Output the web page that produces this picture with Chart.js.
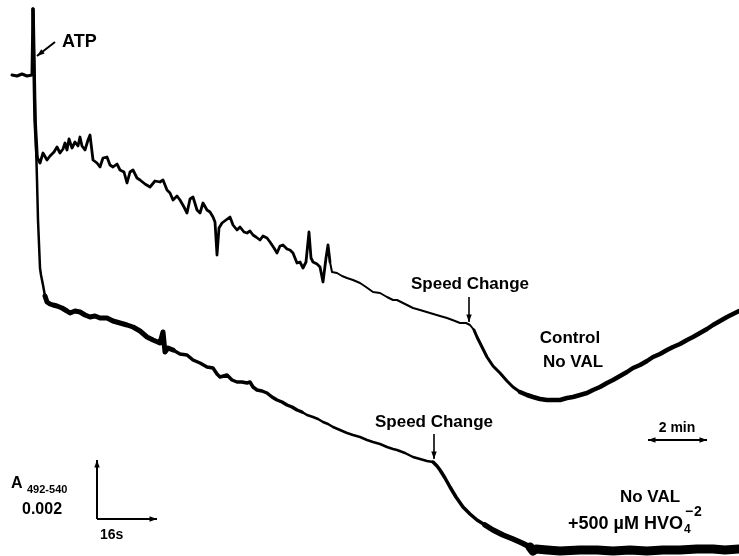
<!DOCTYPE html>
<html>
<head>
<meta charset="utf-8">
<script src="https://cdn.jsdelivr.net/npm/chart.js@4.4.1/dist/chart.umd.min.js"></script>
<style>
    html, body { margin: 0; padding: 0; background: #fff; }
    #wrap { width: 739px; height: 556px; }
</style>
</head>
<body>
<div id="wrap"><canvas id="trace" width="739" height="556"></canvas></div>
<script>
// chart recorder time (arbitrary units, left to right) and pen position (rows, top = 0)
const controlT = [12, 17, 22, 27, 32, 33, 35, 37, 40, 43, 47, 50, 54, 57, 60, 63, 65, 67, 69, 72, 75, 78, 80, 82, 85, 88, 90, 93, 97, 100,
    103, 107, 110, 113, 117, 120, 124, 127, 130, 133, 137, 140, 145, 150, 155, 160, 163, 167, 170, 173, 177, 180, 184, 187, 190, 193, 197, 200,
    203, 207, 210, 213, 215, 217, 219, 222, 226, 230, 233, 237, 240, 244, 247, 250, 253, 256, 260, 263, 267, 270, 274, 277, 280, 283, 287, 290,
    293, 295, 297, 300, 303, 306, 309, 311, 313, 317, 320, 323, 326, 328, 330, 332, 337, 342, 347, 353, 360, 366, 373, 380, 387, 393, 397, 403,
    413, 420, 430, 440, 447, 455, 460, 466, 470, 474, 477, 482, 487, 493, 500, 507, 513, 520, 527, 533, 540, 547, 553, 560, 567, 573, 580, 587,
    593, 600, 607, 613, 620, 627, 633, 640, 647, 653, 660, 667, 673, 680, 687, 693, 700, 707, 713, 720, 727, 733, 739];
const controlA = [75, 76, 74, 76, 75, 9, 120, 157, 163, 153, 160, 156, 152, 147, 153, 149, 143, 150, 139, 148, 142, 146, 137, 146, 150, 140, 135, 160, 163, 167,
    158, 157, 165, 167, 164, 170, 172, 183, 172, 170, 178, 180, 184, 187, 181, 182, 180, 190, 193, 200, 196, 200, 207, 213, 199, 197, 210, 213,
    203, 210, 212, 217, 222, 255, 228, 223, 220, 217, 225, 230, 227, 232, 233, 231, 235, 237, 240, 236, 238, 242, 248, 253, 246, 245, 249, 250,
    253, 258, 263, 262, 268, 262, 232, 258, 262, 264, 267, 282, 258, 245, 262, 272, 273, 276, 278, 280, 283, 287, 292, 293, 297, 300, 300, 303,
    308, 310, 313, 316, 318, 321, 323, 323, 325, 330, 337, 347, 357, 366, 373, 381, 387, 392, 395, 397, 399, 400, 400, 400, 398, 397, 395, 393,
    390, 387, 383, 380, 376, 372, 368, 365, 361, 357, 354, 350, 347, 344, 340, 337, 333, 329, 325, 321, 317, 314, 311];

const vanadateT = [33, 34, 35, 37, 38, 40, 41, 43, 45, 47, 50, 53, 57, 62, 67, 70, 75, 80, 85, 90, 95, 100, 107, 113, 120, 127, 133, 140, 147, 153,
    160, 163, 165, 168, 173, 180, 187, 193, 200, 207, 213, 217, 220, 227, 232, 237, 242, 247, 250, 253, 257, 262, 267, 272, 277, 282, 287, 292,
    297, 302, 307, 313, 318, 323, 328, 333, 340, 347, 353, 360, 367, 373, 380, 387, 393, 397, 405, 413, 420, 427, 433, 437, 440, 445, 450, 456,
    463, 470, 477, 485, 493, 503, 513, 522, 530, 533, 536, 547, 560, 580, 597, 613, 630, 647, 663, 680, 697, 713, 725, 739];
const vanadateA = [9, 60, 110, 180, 220, 268, 275, 285, 296, 302, 304, 305, 306, 308, 311, 313, 311, 312, 315, 317, 316, 318, 318, 321, 323, 325, 327, 331, 337, 340,
    343, 332, 352, 348, 350, 354, 355, 360, 363, 367, 368, 374, 377, 375, 380, 382, 382, 383, 382, 387, 390, 391, 393, 397, 400, 402, 405, 407,
    410, 412, 415, 417, 419, 422, 424, 427, 430, 433, 435, 437, 440, 442, 444, 447, 449, 450, 453, 457, 459, 461, 462, 466, 470, 478, 487, 497,
    507, 514, 520, 525, 530, 535, 539, 543, 547, 551, 549, 550, 551, 550, 550, 551, 550, 551, 550, 550, 549, 549, 550, 549];

const FONT = "'Liberation Sans', Arial, sans-serif";

function toPoints(ts, vs) {
    return ts.map((t, i) => ({ x: t, y: vs[i] }));
}

// pen width grows where the record is noisy / at the slower speed
function controlWidth(x) {
    if (x < 33) return 3;
    if (x < 37) return 3.5;
    if (x < 330) return 2.8;
    if (x < 472) return 2;
    if (x < 520) return 3;
    return 4.5;
}

function vanadateWidth(x) {
    if (x < 45) return 2.5;
    if (x < 170) return 5;
    if (x < 300) return 3.5;
    if (x < 433) return 2.5;
    if (x < 480) return 3.5;
    if (x < 527) return 5.5;
    return 9;
}

function arrowHead(ctx, x1, y1, x2, y2, size) {
    const ang = Math.atan2(y2 - y1, x2 - x1);
    ctx.beginPath();
    ctx.moveTo(x2, y2);
    ctx.lineTo(x2 - size * Math.cos(ang - 0.35), y2 - size * Math.sin(ang - 0.35));
    ctx.lineTo(x2 - size * Math.cos(ang + 0.35), y2 - size * Math.sin(ang + 0.35));
    ctx.closePath();
    ctx.fill();
}

function arrow(ctx, x1, y1, x2, y2, width, size) {
    ctx.lineWidth = width;
    ctx.beginPath();
    ctx.moveTo(x1, y1);
    ctx.lineTo(x2, y2);
    ctx.stroke();
    arrowHead(ctx, x1, y1, x2, y2, size);
}

const notes = {
    id: 'notes',
    afterDraw(chart) {
        const ctx = chart.ctx;
        const sx = v => chart.scales.x.getPixelForValue(v);
        const sy = v => chart.scales.y.getPixelForValue(v);
        ctx.save();
        ctx.fillStyle = '#000';
        ctx.strokeStyle = '#000';
        ctx.textBaseline = 'middle';

        // ATP
        ctx.font = 'bold 18px ' + FONT;
        ctx.textAlign = 'left';
        ctx.fillText('ATP', sx(62), sy(42));
        arrow(ctx, sx(55), sy(42), sx(37), sy(56), 2, 8);

        // speed changes
        ctx.textAlign = 'center';
        ctx.font = 'bold 17px ' + FONT;
        ctx.fillText('Speed Change', sx(470), sy(284));
        arrow(ctx, sx(469), sy(297), sx(469), sy(322), 1.6, 8);
        ctx.fillText('Speed Change', sx(434), sy(422));
        arrow(ctx, sx(434), sy(434), sx(434), sy(459), 1.6, 8);

        // trace labels
        ctx.fillText('Control', sx(570), sy(338));
        ctx.fillText('No VAL', sx(573), sy(362));
        ctx.fillText('No VAL', sx(650), sy(497));

        ctx.textAlign = 'left';
        ctx.font = 'bold 18px ' + FONT;
        let x = sx(568);
        const base = sy(524);
        const main = '+500\u00a0\u00b5M HVO';
        ctx.fillText(main, x, base);
        x += ctx.measureText(main).width + 1;
        ctx.font = 'bold 12px ' + FONT;
        ctx.fillText('4', x, base + 6);
        ctx.font = 'bold 14px ' + FONT;
        ctx.fillText('\u2212', x + 1, base - 12);
        ctx.fillText('2', x + 10, base - 12);

        // 2 min bar
        ctx.textAlign = 'center';
        ctx.font = 'bold 14px ' + FONT;
        ctx.fillText('2 min', sx(677), sy(428));
        arrow(ctx, sx(677), sy(440), sx(707), sy(440), 2, 8);
        arrow(ctx, sx(677), sy(440), sx(648), sy(440), 2, 8);

        // calibration
        ctx.textAlign = 'left';
        ctx.font = 'bold 16px ' + FONT;
        ctx.fillText('A', sx(11), sy(484));
        ctx.font = 'bold 11px ' + FONT;
        ctx.fillText('492-540', sx(27), sy(490));
        ctx.font = 'bold 16px ' + FONT;
        ctx.fillText('0.002', sx(22), sy(510));
        ctx.font = 'bold 14px ' + FONT;
        ctx.fillText('16s', sx(100), sy(535));
        arrow(ctx, sx(97), sy(519), sx(97), sy(460), 2, 8);
        arrow(ctx, sx(97), sy(519), sx(157), sy(519), 2, 8);

        ctx.restore();
    }
};

new Chart(document.getElementById('trace'), {
    type: 'line',
    data: {
        datasets: [
            {
                label: 'Control, no VAL',
                data: toPoints(controlT, controlA),
                borderColor: '#000',
                borderWidth: 2.5,
                borderJoinStyle: 'round',
                borderCapStyle: 'round',
                pointRadius: 0,
                tension: 0,
                segment: { borderWidth: c => controlWidth(c.p0.parsed.x) }
            },
            {
                label: 'No VAL + 500 \u00b5M vanadate',
                data: toPoints(vanadateT, vanadateA),
                borderColor: '#000',
                borderWidth: 2.5,
                borderJoinStyle: 'round',
                borderCapStyle: 'round',
                pointRadius: 0,
                tension: 0,
                segment: { borderWidth: c => vanadateWidth(c.p0.parsed.x) }
            }
        ]
    },
    options: {
        responsive: false,
        animation: false,
        layout: { padding: 0 },
        plugins: {
            legend: { display: false },
            tooltip: { enabled: false }
        },
        scales: {
            x: { type: 'linear', min: 0, max: 739, display: false },
            y: { type: 'linear', min: 0, max: 556, reverse: true, display: false }
        }
    },
    plugins: [notes]
});
</script>
</body>
</html>
